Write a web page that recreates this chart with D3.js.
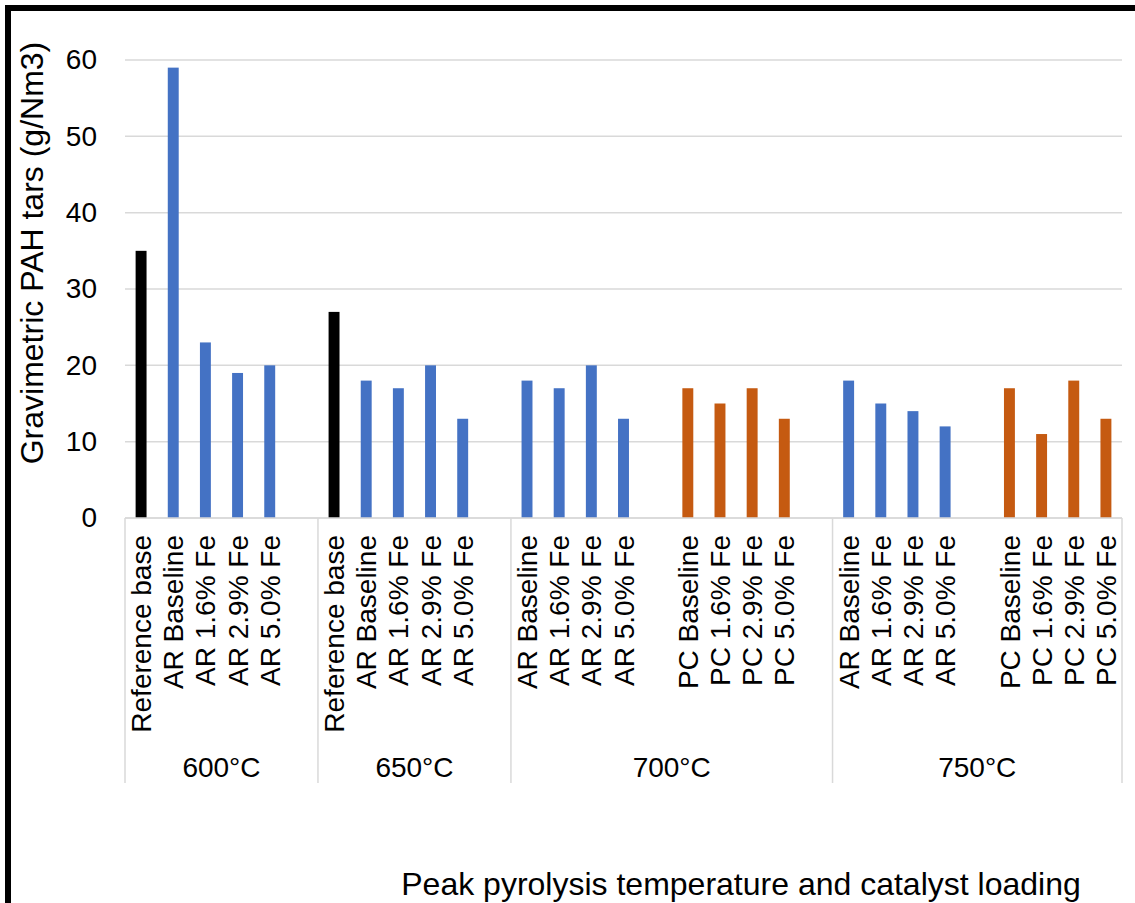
<!DOCTYPE html>
<html>
<head>
<meta charset="utf-8">
<script src="https://cdn.jsdelivr.net/npm/d3@7/dist/d3.min.js"></script>
<style>
  html, body { margin: 0; padding: 0; background: #fff; }
  svg { display: block; font-family: "Liberation Sans", Arial, sans-serif; }
</style>
</head>
<body>
<svg id="chart" width="1135" height="903"></svg>
<script>
// Temperature groups and how many category slots each one spans (blank slots included)
const groupNames = ["600°C", "650°C", "700°C", "750°C"];
const groupSizes = [6, 6, 10, 9];

// Category labels, one per slot ("" = empty spacer slot)
const categories = [
  "Reference base", "AR Baseline", "AR 1.6% Fe", "AR 2.9% Fe", "AR 5.0% Fe", "",
  "Reference base", "AR Baseline", "AR 1.6% Fe", "AR 2.9% Fe", "AR 5.0% Fe", "",
  "AR Baseline", "AR 1.6% Fe", "AR 2.9% Fe", "AR 5.0% Fe", "",
  "PC Baseline", "PC 1.6% Fe", "PC 2.9% Fe", "PC 5.0% Fe", "",
  "AR Baseline", "AR 1.6% Fe", "AR 2.9% Fe", "AR 5.0% Fe", "",
  "PC Baseline", "PC 1.6% Fe", "PC 2.9% Fe", "PC 5.0% Fe"
];

// Gravimetric PAH tars (g/Nm3) per series, aligned with the slots above
const referenceValues = [
  35, null, null, null, null, null,
  27, null, null, null, null, null,
  null, null, null, null, null, null, null, null, null, null,
  null, null, null, null, null, null, null, null, null
];
const arValues = [
  null, 59, 23, 19, 20, null,
  null, 18, 17, 20, 13, null,
  18, 17, 20, 13, null, null, null, null, null, null,
  18, 15, 14, 12, null, null, null, null, null
];
const pcValues = [
  null, null, null, null, null, null,
  null, null, null, null, null, null,
  null, null, null, null, null, 17, 15, 17, 13, null,
  null, null, null, null, null, 17, 11, 18, 13
];

const yTicks = [0, 10, 20, 30, 40, 50, 60];

const seriesList = [
  { name: "Reference", values: referenceValues, color: "#000000" },
  { name: "AR", values: arValues, color: "#4472C4" },
  { name: "PC", values: pcValues, color: "#C55A11" }
];

const svg = d3.select("#chart");
const plot = { left: 125, right: 1122, top: 60, bottom: 518 };

const pInner = 0.66;
const x = d3.scaleBand()
  .domain(d3.range(categories.length))
  .range([plot.left, plot.right])
  .paddingInner(pInner)
  .paddingOuter(pInner / 2);

const y = d3.scaleLinear().domain([0, 60]).range([plot.bottom, plot.top]);

// Horizontal gridlines
svg.append("g")
  .selectAll("line")
  .data(yTicks)
  .join("line")
  .attr("x1", plot.left).attr("x2", plot.right)
  .attr("y1", d => y(d)).attr("y2", d => y(d))
  .attr("stroke", "#d9d9d9")
  .attr("stroke-width", 1.5);

// Y axis labels
const yAxis = d3.axisLeft(y).tickValues(yTicks).tickSize(0).tickPadding(28);
const yg = svg.append("g").attr("transform", `translate(${plot.left},0)`).call(yAxis);
yg.select(".domain").remove();
yg.selectAll("text")
  .attr("font-size", 28)
  .attr("fill", "#000")
  .attr("font-family", "Liberation Sans, Arial, sans-serif");

// Bars
seriesList.forEach(s => {
  svg.append("g")
    .selectAll("rect")
    .data(s.values.map((v, i) => ({ i, v })).filter(d => d.v != null))
    .join("rect")
    .attr("x", d => x(d.i))
    .attr("width", x.bandwidth())
    .attr("y", d => y(d.v))
    .attr("height", d => y(0) - y(d.v))
    .attr("fill", s.color);
});

// Group boundaries along the category axis
const gap = (x.step() - x.bandwidth()) / 2;
const groupStarts = [];
let acc = 0;
groupSizes.forEach(n => { groupStarts.push(acc); acc += n; });
const boundaries = groupStarts.map(i => x(i) - gap).concat([plot.right]);

svg.append("g")
  .selectAll("line")
  .data(boundaries)
  .join("line")
  .attr("x1", d => d).attr("x2", d => d)
  .attr("y1", plot.bottom).attr("y2", 783)
  .attr("stroke", "#d9d9d9")
  .attr("stroke-width", 1.5);

// Category labels (rotated)
const xAxis = d3.axisBottom(x).tickSize(0).tickFormat(i => categories[i]);
const xg = svg.append("g").attr("transform", `translate(0,${plot.bottom})`).call(xAxis);
xg.select(".domain").remove();
xg.selectAll(".tick text")
  .attr("font-size", 28)
  .attr("font-family", "Liberation Sans, Arial, sans-serif")
  .attr("fill", "#000")
  .attr("text-anchor", "end")
  .attr("transform", "rotate(-90)")
  .attr("x", -17)
  .attr("y", 0)
  .attr("dy", "0.36em");

// Category axis line
svg.append("line")
  .attr("x1", plot.left).attr("x2", plot.right)
  .attr("y1", y(0)).attr("y2", y(0))
  .attr("stroke", "#d9d9d9")
  .attr("stroke-width", 1.5);

// Group labels
svg.append("g")
  .selectAll("text")
  .data(groupNames)
  .join("text")
  .attr("x", (d, i) => (boundaries[i] + boundaries[i + 1]) / 2)
  .attr("y", 777)
  .attr("text-anchor", "middle")
  .attr("font-size", 28)
  .attr("fill", "#000")
  .text(d => d);

// Axis titles
svg.append("text")
  .attr("transform", "translate(43,253) rotate(-90)")
  .attr("text-anchor", "middle")
  .attr("font-size", 32)
  .attr("fill", "#000")
  .text("Gravimetric PAH tars (g/Nm3)");

svg.append("text")
  .attr("x", 741)
  .attr("y", 895)
  .attr("text-anchor", "middle")
  .attr("font-size", 32)
  .attr("fill", "#000")
  .text("Peak pyrolysis temperature and catalyst loading");

// Frame on the top and left edges
svg.append("path")
  .attr("d", "M8,903 L8,8 L1135,8")
  .attr("fill", "none")
  .attr("stroke", "#000")
  .attr("stroke-width", 6);
</script>
</body>
</html>
